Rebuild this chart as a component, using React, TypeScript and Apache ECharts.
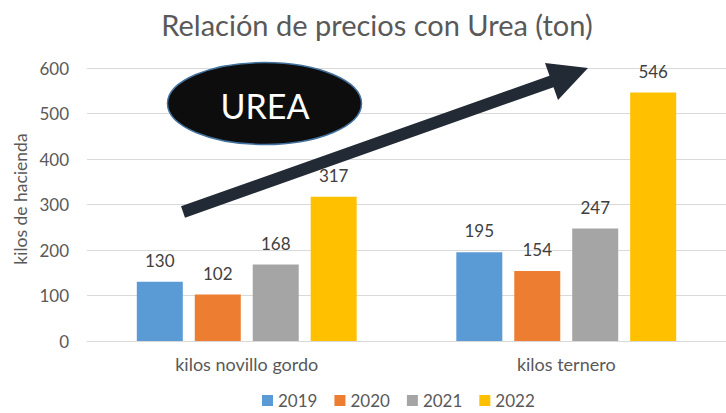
import React, { useEffect, useRef } from "react";
import * as echarts from "echarts";

const categories = ["kilos novillo gordo", "kilos ternero"];
const seriesNames = ["2019", "2020", "2021", "2022"];
const values2019 = [130, 195];
const values2020 = [102, 154];
const values2021 = [168, 247];
const values2022 = [317, 546];
const colors = ["#5b9bd5", "#ed7d31", "#a5a5a5", "#ffc000"];
const yTicks = { min: 0, max: 600, interval: 100 };

const FONT = "Lato, 'Open Sans', sans-serif";

export default function App() {
  const ref = useRef<HTMLDivElement>(null);
  useEffect(() => {
    if (!ref.current) return;
    const chart = echarts.init(ref.current, null, { renderer: "svg" });
    const allValues = [values2019, values2020, values2021, values2022];
    const option = {
      animation: false,
      backgroundColor: "#ffffff",
      textStyle: { fontFamily: FONT },
      grid: { left: 87, top: 68, width: 641, height: 273, containLabel: false },
      legend: {
        data: seriesNames,
        left: 262,
        top: 392,
        padding: 0,
        itemWidth: 11,
        itemHeight: 11,
        itemGap: 17,
        icon: "rect",
        textStyle: { color: "#595959", fontSize: 17, fontFamily: FONT },
      },
      xAxis: {
        type: "category",
        data: categories,
        axisLine: { lineStyle: { color: "#d9d9d9", width: 1 } },
        axisTick: { show: false },
        axisLabel: { color: "#595959", fontSize: 18, margin: 14, fontFamily: FONT },
      },
      yAxis: {
        type: "value",
        min: yTicks.min,
        max: yTicks.max,
        interval: yTicks.interval,
        axisLine: { show: false },
        axisTick: { show: false },
        splitLine: { lineStyle: { color: "#d9d9d9", width: 1 } },
        axisLabel: { color: "#595959", fontSize: 17, margin: 18, fontFamily: FONT },
      },
      series: seriesNames.map((name, i) => ({
        name,
        type: "bar",
        data: allValues[i],
        barWidth: 46,
        barGap: "26%",
        itemStyle: { color: colors[i] },
        label: {
          show: true,
          position: "top",
          distance: 13,
          color: "#404040",
          fontSize: 17,
          fontFamily: FONT,
        },
      })),
      graphic: [
        {
          type: "text",
          x: 377,
          y: 24,
          style: {
            text: "Relación de precios con Urea (ton)",
            textAlign: "center",
            textVerticalAlign: "middle",
            fill: "#595959",
            fontSize: 29,
            fontFamily: FONT,
          },
        },
        {
          type: "text",
          x: 20,
          y: 199,
          rotation: Math.PI / 2,
          style: {
            text: "kilos de hacienda",
            textAlign: "center",
            textVerticalAlign: "middle",
            fill: "#595959",
            fontSize: 17.5,
            fontFamily: FONT,
          },
        },
        {
          type: "ellipse",
          shape: { cx: 264.5, cy: 103.5, rx: 97, ry: 41 },
          style: { fill: "#0d0d0d", stroke: "#41719c", lineWidth: 1.5 },
          z: 100,
        },
        {
          type: "text",
          x: 265,
          y: 105,
          z: 101,
          style: {
            text: "UREA",
            textAlign: "center",
            textVerticalAlign: "middle",
            fill: "#ffffff",
            fontSize: 34,
            fontFamily: FONT,
          },
        },
        {
          type: "polygon",
          z: 100,
          shape: {
            points: [
              [181, 206.3],
              [549.5, 75.8],
              [545, 63],
              [588, 68],
              [558, 100],
              [553.5, 87.2],
              [185, 217.7],
            ],
          },
          style: { fill: "#222a35" },
        },
      ],
    };
    chart.setOption(option);
    return () => chart.dispose();
  }, []);
  return (
    <div
      ref={ref}
      style={{ position: "fixed", left: 0, top: 0, width: 726, height: 413 }}
    />
  );
}
